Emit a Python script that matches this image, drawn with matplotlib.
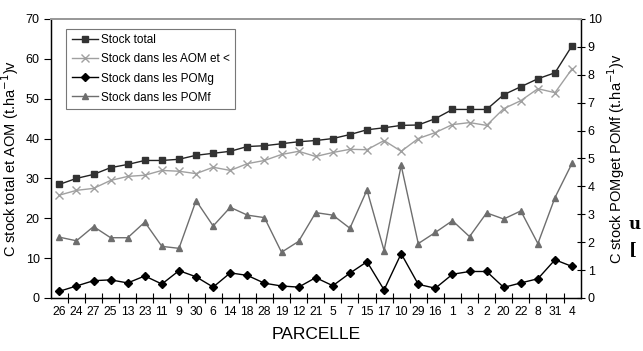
import matplotlib
matplotlib.use("Agg")
import matplotlib.pyplot as plt

plt.rcParams['font.family'] = ['Liberation Sans', 'DejaVu Sans']

# ---------------------------------------------------------------------------
# Data
# ---------------------------------------------------------------------------
parcelles = ["26", "24", "27", "25", "13", "23", "11", "9", "30", "6", "14",
             "18", "28", "19", "12", "21", "5", "7", "15", "17", "10", "29",
             "16", "1", "3", "2", "20", "22", "8", "31", "4"]

stock_total = [28.5, 30.0, 31.0, 32.7, 33.5, 34.5, 34.5, 34.8, 35.8, 36.3, 36.8,
               38.0, 38.2, 38.7, 39.2, 39.5, 40.0, 41.0, 42.2, 42.7, 43.3, 43.4,
               45.0, 47.3, 47.3, 47.3, 51.0, 53.0, 55.0, 56.5, 63.3]

stock_aom = [25.8, 27.0, 27.5, 29.5, 30.5, 30.8, 32.0, 31.8, 31.2, 32.8, 32.0,
             33.7, 34.5, 36.0, 36.8, 35.5, 36.5, 37.3, 37.2, 39.5, 36.8, 40.0,
             41.5, 43.5, 44.0, 43.3, 47.5, 49.5, 52.5, 51.5, 57.5]

stock_pomg = [0.24, 0.43, 0.62, 0.65, 0.54, 0.79, 0.50, 0.98, 0.76, 0.39, 0.90,
              0.81, 0.53, 0.43, 0.39, 0.73, 0.44, 0.89, 1.30, 0.29, 1.59, 0.49,
              0.35, 0.85, 0.95, 0.95, 0.38, 0.54, 0.69, 1.37, 1.13]

stock_pomf = [2.18, 2.05, 2.56, 2.16, 2.16, 2.72, 1.85, 1.78, 3.49, 2.58, 3.25,
              2.97, 2.88, 1.64, 2.03, 3.06, 2.97, 2.50, 3.87, 1.70, 4.75, 1.95,
              2.35, 2.77, 2.20, 3.05, 2.83, 3.12, 1.95, 3.60, 4.83]

# ---------------------------------------------------------------------------
# Figure
# ---------------------------------------------------------------------------
fig = plt.figure(figsize=(6.43, 3.51), dpi=100)
ax1 = fig.add_axes([0.079, 0.151, 0.824, 0.795])
ax2 = ax1.twinx()

x = list(range(len(parcelles)))

l1, = ax1.plot(x, stock_total, color="#222222", lw=1.0, marker="s", ms=4.5,
               mfc="#333333", mec="#333333", label="Stock total")
l2, = ax1.plot(x, stock_aom, color="#a0a0a0", lw=1.0, marker="x", ms=6,
               mew=1.0, label="Stock dans les AOM et <")
l3, = ax2.plot(x, stock_pomg, color="#000000", lw=1.0, marker="D", ms=4,
               label="Stock dans les POMg")
l4, = ax2.plot(x, stock_pomf, color="#6e6e6e", lw=1.0, marker="^", ms=5,
               mfc="#6e6e6e", mec="#6e6e6e", label="Stock dans les POMf")

ax1.set_xlim(-0.5, len(parcelles) - 0.5)
ax1.set_ylim(0, 70)
ax2.set_ylim(0, 10)
ax1.set_yticks(range(0, 71, 10))
ax2.set_yticks(range(0, 11, 1))

ax1.set_xticks(x)
ax1.set_xticklabels(parcelles, fontsize=8.7)
ax1.set_xticks([i + 0.5 for i in x[:-1]], minor=True)
ax1.tick_params(axis="x", which="major", length=0, pad=6)
ax1.tick_params(axis="x", which="minor", length=7, direction="inout", width=0.8)
ax1.tick_params(axis="y", labelsize=9, length=5, direction="out", width=0.8, pad=3)
ax2.tick_params(axis="y", labelsize=9, length=6, direction="inout", width=0.8, pad=2)

for ax in (ax1, ax2):
    ax.spines["top"].set_color("#999999")
    ax.spines["top"].set_linewidth(1.4)
    for s in ("left", "right", "bottom"):
        ax.spines[s].set_color("#000000")
        ax.spines[s].set_linewidth(0.9)

ax1.set_ylabel("C stock total et AOM (t.ha$^{-1}$)v", fontsize=10.5)
ax1.yaxis.set_label_coords(-0.056, 0.5)
ax2.set_ylabel("C stock POMget POMf (t.ha$^{-1}$)v", fontsize=10.5)
ax2.yaxis.set_label_coords(1.047, 0.5)
ax1.set_xlabel("PARCELLE", fontsize=12.5, labelpad=6)

leg = ax2.legend(handles=[l1, l2, l3, l4], loc="upper left",
                 bbox_to_anchor=(0.018, 0.985), fontsize=8.5, frameon=True,
                 fancybox=False, edgecolor="#555555", handlelength=2.2,
                 borderpad=0.45, labelspacing=0.6, handletextpad=0.3)
leg.get_frame().set_linewidth(0.8)

# stray characters from the neighbouring page text
fig.text(0.978, 0.36, "u", fontsize=12, fontweight="bold", family="DejaVu Serif",
         ha="left", va="center")
fig.text(0.978, 0.29, "[", fontsize=12, fontweight="bold", family="DejaVu Serif",
         ha="left", va="center")

fig.savefig("out.png", dpi=100)
